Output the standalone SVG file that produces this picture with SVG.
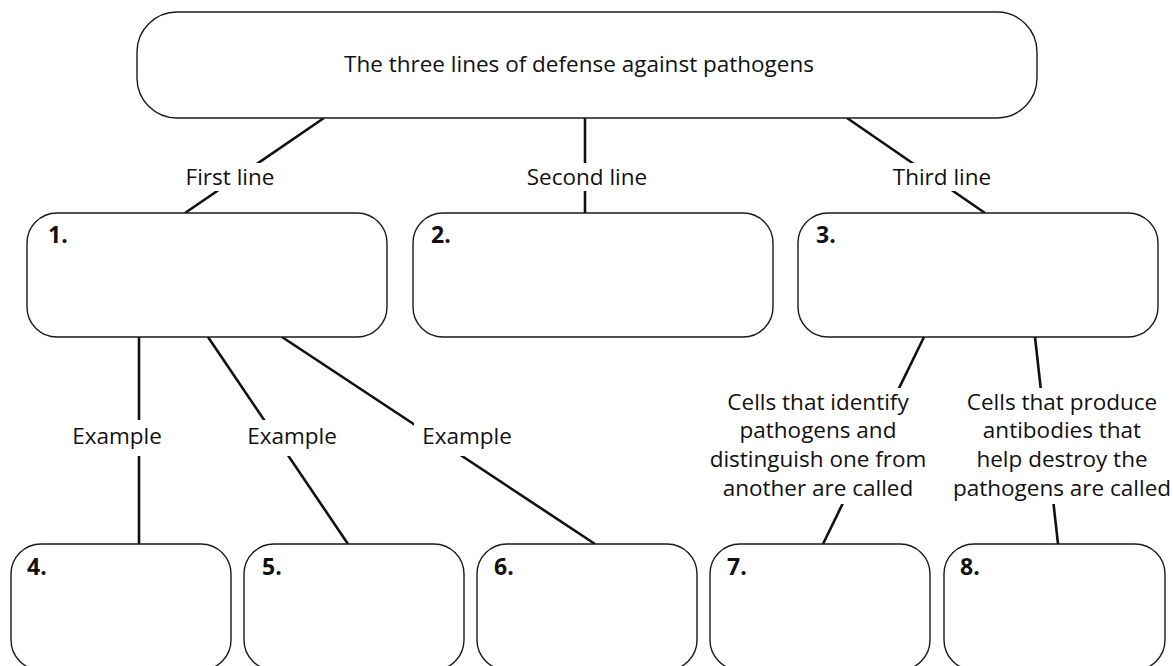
<svg xmlns="http://www.w3.org/2000/svg" width="1173" height="666" viewBox="0 0 1173 666">
<style>
.box{fill:#fff;stroke:#1a1a1a;stroke-width:1.4}
.ln{stroke:#111;stroke-width:2.6;fill:none}
.t{font-family:"Open Sans","Liberation Sans",sans-serif;font-size:22.5px;fill:#111}
.c{text-anchor:middle}
.n{font-family:"Open Sans","Liberation Sans",sans-serif;font-size:23px;font-weight:bold;fill:#111}
.bg{fill:#fff}
</style>
<rect width="1173" height="666" fill="#fff"/>
<g id="connectors">
<line class="ln" x1="324" y1="118" x2="185" y2="213"/>
<line class="ln" x1="585" y1="118" x2="585" y2="213"/>
<line class="ln" x1="847" y1="118" x2="985" y2="213"/>
<line class="ln" x1="139" y1="337" x2="139" y2="544"/>
<line class="ln" x1="208" y1="337" x2="348" y2="544"/>
<line class="ln" x1="282" y1="337" x2="595" y2="544"/>
<line class="ln" x1="924" y1="337" x2="823" y2="544"/>
<line class="ln" x1="1035" y1="337" x2="1058" y2="544"/>
<rect class="bg" x="178" y="163" width="104" height="28"/>
<rect class="bg" x="518" y="163" width="138" height="28"/>
<rect class="bg" x="884" y="163" width="116" height="28"/>
<rect class="bg" x="64" y="420" width="106" height="36"/>
<rect class="bg" x="239" y="420" width="106" height="36"/>
<rect class="bg" x="414" y="420" width="106" height="36"/>
<rect class="bg" x="706" y="388" width="224" height="116"/>
<rect class="bg" x="948" y="388" width="225" height="116"/>
<text class="t c" x="230" y="185">First line</text>
<text class="t c" x="587" y="185">Second line</text>
<text class="t c" x="942" y="185">Third line</text>
<text class="t c" x="117" y="444">Example</text>
<text class="t c" x="292" y="444">Example</text>
<text class="t c" x="467" y="444">Example</text>
<text class="t c" x="818" y="410">Cells that identify</text>
<text class="t c" x="818" y="438">pathogens and</text>
<text class="t c" x="818" y="467">distinguish one from</text>
<text class="t c" x="818" y="496">another are called</text>
<text class="t c" x="1062" y="410">Cells that produce</text>
<text class="t c" x="1062" y="438">antibodies that</text>
<text class="t c" x="1062" y="467">help destroy the</text>
<text class="t c" x="1062" y="496">pathogens are called</text>
</g>
<g id="node-top">
<rect class="box" x="137" y="12" width="900" height="106" rx="40" ry="40"/>
<text class="t c" x="579" y="72">The three lines of defense against pathogens</text>
</g>
<g id="node-1">
<rect class="box" x="27" y="213" width="360" height="124" rx="30" ry="30"/>
<text class="n" x="48" y="243">1.</text>
</g>
<g id="node-2">
<rect class="box" x="413" y="213" width="360" height="124" rx="30" ry="30"/>
<text class="n" x="431" y="243">2.</text>
</g>
<g id="node-3">
<rect class="box" x="798" y="213" width="360" height="124" rx="30" ry="30"/>
<text class="n" x="816" y="243">3.</text>
</g>
<g id="node-4">
<rect class="box" x="11" y="544" width="220" height="126" rx="30" ry="30"/>
<text class="n" x="27" y="575">4.</text>
</g>
<g id="node-5">
<rect class="box" x="244" y="544" width="220" height="126" rx="30" ry="30"/>
<text class="n" x="262" y="575">5.</text>
</g>
<g id="node-6">
<rect class="box" x="477" y="544" width="220" height="126" rx="30" ry="30"/>
<text class="n" x="494" y="575">6.</text>
</g>
<g id="node-7">
<rect class="box" x="710" y="544" width="220" height="126" rx="30" ry="30"/>
<text class="n" x="727" y="575">7.</text>
</g>
<g id="node-8">
<rect class="box" x="944" y="544" width="221" height="126" rx="30" ry="30"/>
<text class="n" x="960" y="575">8.</text>
</g>
</svg>
